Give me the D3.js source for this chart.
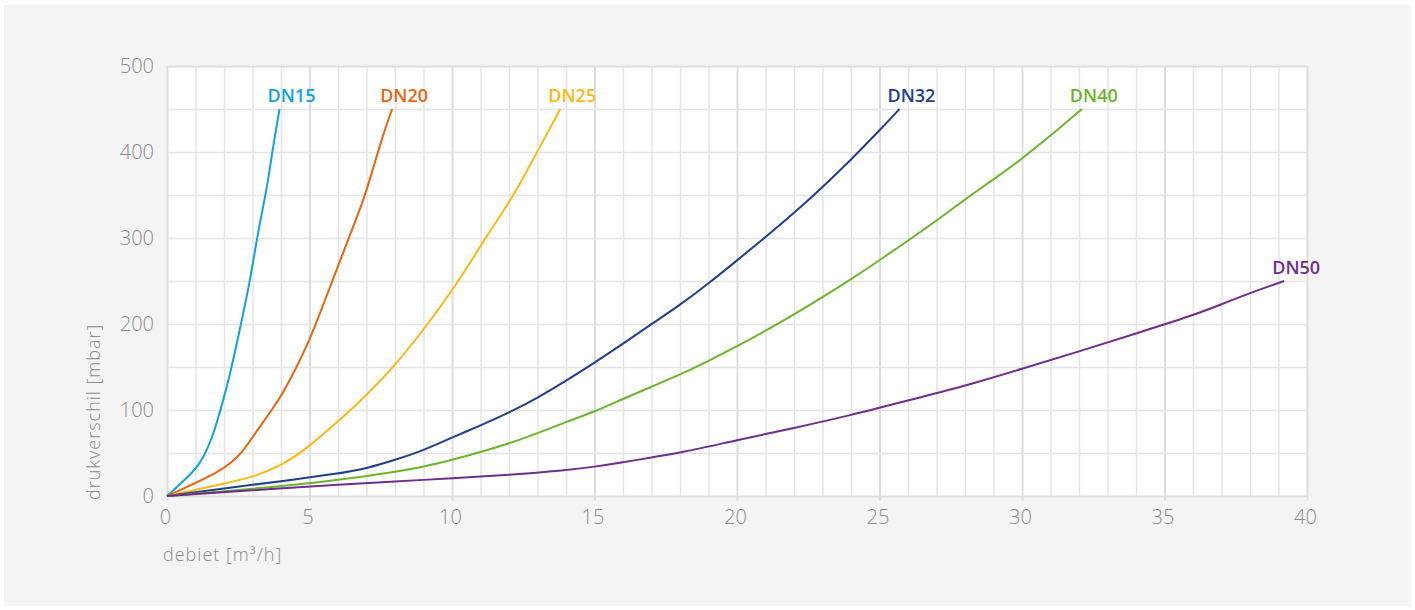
<!DOCTYPE html>
<meta charset="utf-8">
<style>

body {
  margin: 0;
  background: #fff;
}

text {
  font-family: "Open Sans", "DejaVu Sans", sans-serif;
}

.grid line {
  stroke: #e4e4e4;
  stroke-width: 1.5px;
}

.grid line.major {
  stroke: #dddddd;
  stroke-width: 2px;
}

.grid path {
  display: none;
}

.axis path {
  display: none;
}

.axis line {
  stroke: #e0e0e0;
  stroke-width: 2px;
}

.axis text {
  fill: #8a8a8a;
  font-size: 20px;
  font-weight: 300;
}

.title {
  fill: #8a8a8a;
  font-size: 18px;
  font-weight: 300;
  letter-spacing: 1px;
}

.curve {
  fill: none;
  stroke-width: 2px;
}

.label {
  font-size: 18px;
  font-weight: 600;
}

</style>
<svg width="1415" height="610"></svg>
<script src="https://d3js.org/d3.v7.min.js"></script>
<script>

// flow [m3/h] and pressure drop [mbar]
var dn15x = [0, 1.0, 1.3, 1.6, 1.88, 2.2, 2.55, 2.9, 3.2, 3.5, 3.72, 3.95],
    dn15y = [0, 30, 46, 69, 100, 139, 193, 247, 309, 356, 406, 450];

var dn20x = [0, 2.0, 2.65, 3.25, 3.95, 4.55, 5.05, 5.5, 5.95, 6.4, 6.9, 7.25, 7.6, 7.9],
    dn20y = [0, 30, 50, 81, 112, 150, 185, 224, 263, 302, 344, 383, 422, 450];

var dn25x = [0, 2.1, 3.0, 3.95, 4.9, 5.95, 7.0, 7.95, 9.0, 10.25, 11.2, 12.15, 12.95, 13.8],
    dn25y = [0, 15, 22, 34, 55, 85, 117, 150, 193, 250, 302, 348, 398, 450];

var dn32x = [0, 2, 4, 6, 7, 8, 9, 10, 11, 12, 13, 14, 15, 16, 17, 18, 19, 20, 21, 22, 23, 24, 25, 25.7],
    dn32y = [0, 9, 17, 26, 32, 42, 53, 68, 82, 97, 114, 134, 155, 177, 200, 222, 247, 274, 301, 329, 359, 391, 425, 450];

var dn40x = [0, 4, 6, 8, 9, 10, 11, 12, 13, 14, 15, 16, 17, 18, 19, 20, 21, 22, 23, 24, 25, 26, 27, 28, 29, 30, 31, 32.1],
    dn40y = [0, 11, 18.6, 28, 34, 42, 51, 61, 73, 86, 98, 113, 127, 141, 157, 174, 192, 211, 231, 252, 274, 297, 320, 345, 368, 392, 419, 450];

var dn50x = [0, 4, 6, 8, 10, 12, 14, 15, 16, 17, 18, 20, 22, 24, 26, 28, 30, 32, 34, 36, 37, 38, 39.2],
    dn50y = [0, 9, 13, 17, 20.5, 24.5, 30, 34, 39, 45, 50, 65, 79, 94, 111, 128, 148, 168, 189, 210, 223, 236, 250];

var names = ["DN15", "DN20", "DN25", "DN32", "DN40", "DN50"],
    colors = ["#0ea2e0", "#e9650f", "#fbb912", "#213f8e", "#6bb52c", "#702c8f"];

var xTicks = [0, 5, 10, 15, 20, 25, 30, 35, 40],
    yTicks = [0, 100, 200, 300, 400, 500];

var series = [
  [dn15x, dn15y], [dn20x, dn20y], [dn25x, dn25y],
  [dn32x, dn32y], [dn40x, dn40y], [dn50x, dn50y]
].map(function(s, i) {
  return {
    name: names[i],
    color: colors[i],
    values: s[0].map(function(x, j) { return {x: x, y: s[1][j]}; })
  };
});

var svg = d3.select("svg"),
    margin = {top: 66, left: 167},
    width = 1140,
    height = 430;

svg.append("rect")
    .attr("x", 4)
    .attr("y", 5)
    .attr("width", 1407)
    .attr("height", 601)
    .attr("fill", "#f4f4f4");

var g = svg.append("g")
    .attr("transform", "translate(" + margin.left + "," + margin.top + ")");

var x = d3.scaleLinear().domain([0, 40]).range([0, width]),
    y = d3.scaleLinear().domain([0, 500]).range([height, 0]);

g.append("rect")
    .attr("width", width)
    .attr("height", height)
    .attr("fill", "#fff");

g.append("g")
    .attr("class", "grid")
    .attr("transform", "translate(0," + height + ")")
    .call(d3.axisBottom(x).tickValues(d3.range(0, 41)).tickSize(-height).tickFormat(""))
  .selectAll("line")
    .classed("major", function(d) { return d % 5 === 0; });

g.append("g")
    .attr("class", "grid")
    .call(d3.axisLeft(y).tickValues(d3.range(0, 501, 50)).tickSize(-width).tickFormat(""))
  .selectAll("line")
    .classed("major", function(d) { return d === 0 || d === 500; });

g.append("g")
    .attr("class", "axis")
    .attr("transform", "translate(0," + height + ")")
    .call(d3.axisBottom(x).tickValues(xTicks).tickSize(5).tickPadding(9))
  .selectAll("text")
    .attr("dx", "-2");

g.append("g")
    .attr("class", "axis")
    .call(d3.axisLeft(y).tickValues(yTicks).tickSize(0).tickPadding(13));

var line = d3.line()
    .x(function(d) { return x(d.x); })
    .y(function(d) { return y(d.y); })
    .curve(d3.curveBasis);

g.selectAll(".curve")
    .data(series)
  .enter().append("path")
    .attr("class", "curve")
    .attr("stroke", function(d) { return d.color; })
    .attr("d", function(d) { return line(d.values); });

g.selectAll(".label")
    .data(series)
  .enter().append("text")
    .attr("class", "label")
    .attr("fill", function(d) { return d.color; })
    .attr("x", function(d) { return x(d.values[d.values.length - 1].x) - 12; })
    .attr("y", function(d) { return y(d.values[d.values.length - 1].y) - 7; })
    .text(function(d) { return d.name; });

svg.append("text")
    .attr("class", "title")
    .attr("x", 163)
    .attr("y", 561)
    .text("debiet [m³/h]");

svg.append("text")
    .attr("class", "title")
    .attr("transform", "translate(100,500) rotate(-90)")
    .text("drukverschil [mbar]");

</script>
